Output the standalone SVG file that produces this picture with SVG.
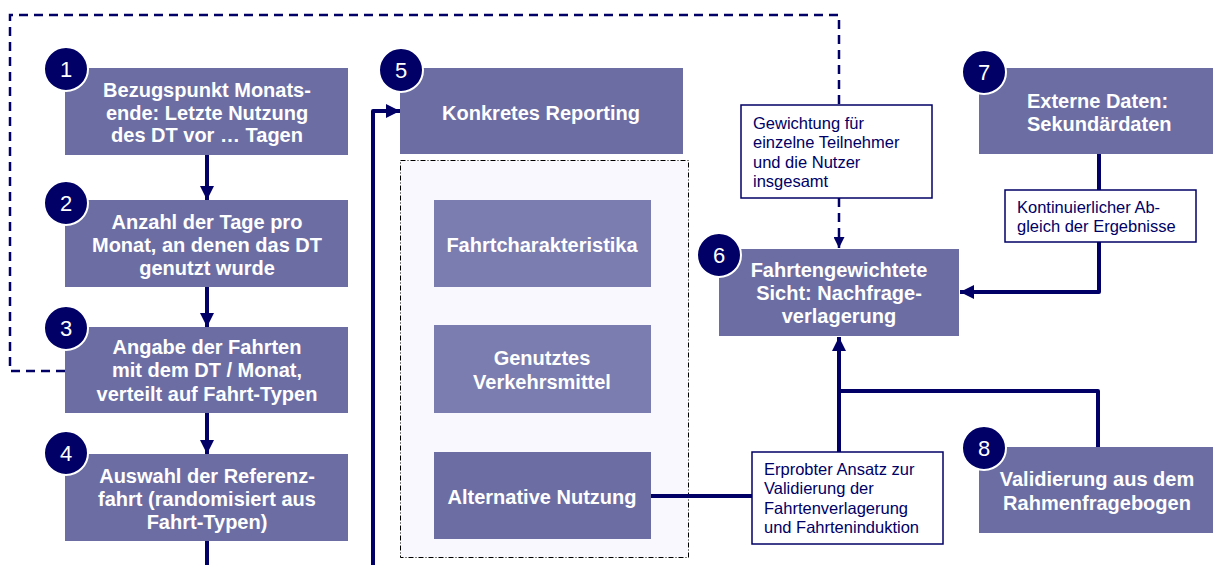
<svg xmlns="http://www.w3.org/2000/svg" width="1215" height="565" viewBox="0 0 1215 565">
<style>
.box{fill:#6C6EA3}
.lbox{fill:#7B7DB0}
.t{font-family:"Liberation Sans",Arial,sans-serif;font-weight:bold;font-size:20px;fill:#ffffff;text-anchor:middle}
.n{font-family:"Liberation Sans",Arial,sans-serif;font-size:22px;fill:#ffffff;text-anchor:middle}
.c{fill:#000066;stroke:#ffffff;stroke-width:2}
.note{fill:#ffffff;stroke:#000066;stroke-width:1.5}
.nt{font-family:"Liberation Sans",Arial,sans-serif;font-size:16.5px;fill:#000066}
.line{fill:none;stroke:#000066;stroke-width:4;stroke-linejoin:round}
.dash{fill:none;stroke:#000066;stroke-width:2.5;stroke-dasharray:9 6}
</style>
<defs>
<marker id="ah" viewBox="0 0 10 10" refX="10" refY="5" markerWidth="3.6" markerHeight="3.6" markerUnits="strokeWidth" orient="auto">
<path d="M0,0 L10,5 L0,10 z" fill="#000066"/>
</marker>
<marker id="ahs" viewBox="0 0 10 10" refX="10" refY="5" markerWidth="4.4" markerHeight="4.4" markerUnits="strokeWidth" orient="auto">
<path d="M0,0 L10,5 L0,10 z" fill="#000066"/>
</marker>
</defs>

<g id="group5">
<rect x="400.5" y="160.5" width="288" height="397" fill="#F8F8FE" stroke="#000000" stroke-width="1" stroke-dasharray="5 2 1 2"/>
</g>

<g id="connectors">
<path class="dash" d="M65,371 H10 V15 H839 V105"/>
<path class="dash" d="M839,198 V248" marker-end="url(#ahs)"/>
<path class="line" d="M207,155 V200" marker-end="url(#ah)"/>
<path class="line" d="M207,287 V327" marker-end="url(#ah)"/>
<path class="line" d="M207,413 V454" marker-end="url(#ah)"/>
<path class="line" d="M207,541 V565"/>
<path class="line" d="M373,565 V111 H400" marker-end="url(#ah)"/>
<path class="line" d="M1099,154 V190"/>
<path class="line" d="M1099,242 V292 H960" marker-end="url(#ah)"/>
<path class="line" d="M651,496 H752"/>
<path class="line" d="M839,452 V337" marker-end="url(#ah)"/>
<path class="line" d="M839,391 H1098 V447"/>
</g>

<g id="node1">
<rect class="box" x="65" y="68" width="283" height="87"/>
<text class="t" x="207" y="97">Bezugspunkt Monats-</text>
<text class="t" x="207" y="120">ende: Letzte Nutzung</text>
<text class="t" x="207" y="142">des DT vor … Tagen</text>
<circle class="c" cx="66" cy="69" r="22"/>
<text class="n" x="66" y="77">1</text>
</g>

<g id="node2">
<rect class="box" x="65" y="200" width="283" height="87"/>
<text class="t" x="207" y="229">Anzahl der Tage pro</text>
<text class="t" x="207" y="252">Monat, an denen das DT</text>
<text class="t" x="207" y="275">genutzt wurde</text>
<circle class="c" cx="66" cy="203" r="22"/>
<text class="n" x="66" y="211">2</text>
</g>

<g id="node3">
<rect class="box" x="65" y="327" width="283" height="86"/>
<text class="t" x="207" y="354">Angabe der Fahrten</text>
<text class="t" x="207" y="377">mit dem DT / Monat,</text>
<text class="t" x="207" y="401">verteilt auf Fahrt-Typen</text>
<circle class="c" cx="66" cy="328" r="22"/>
<text class="n" x="66" y="336">3</text>
</g>

<g id="node4">
<rect class="box" x="65" y="454" width="283" height="87"/>
<text class="t" x="207" y="483">Auswahl der Referenz-</text>
<text class="t" x="207" y="506">fahrt (randomisiert aus</text>
<text class="t" x="207" y="529">Fahrt-Typen)</text>
<circle class="c" cx="66" cy="453" r="22"/>
<text class="n" x="66" y="461">4</text>
</g>

<g id="node5">
<rect class="box" x="400" y="68" width="283" height="86"/>
<text class="t" x="541" y="120">Konkretes Reporting</text>
<circle class="c" cx="401" cy="70" r="22"/>
<text class="n" x="401" y="78">5</text>
</g>

<g id="fahrtcharakteristika">
<rect class="lbox" x="434" y="200" width="217" height="87"/>
<text class="t" x="542" y="252">Fahrtcharakteristika</text>
</g>

<g id="verkehrsmittel">
<rect class="lbox" x="434" y="325" width="217" height="88"/>
<text class="t" x="542" y="365">Genutztes</text>
<text class="t" x="542" y="389">Verkehrsmittel</text>
</g>

<g id="alternative">
<rect class="box" x="434" y="452" width="217" height="87"/>
<text class="t" x="542" y="504">Alternative Nutzung</text>
</g>

<g id="node6">
<rect class="box" x="719" y="249" width="240" height="87"/>
<text class="t" x="839" y="277">Fahrtengewichtete</text>
<text class="t" x="839" y="300">Sicht: Nachfrage-</text>
<text class="t" x="839" y="323">verlagerung</text>
<circle class="c" cx="719" cy="255" r="22"/>
<text class="n" x="719" y="263">6</text>
</g>

<g id="node7">
<rect class="box" x="979" y="68" width="234" height="86"/>
<text class="t" x="1027" y="108" style="text-anchor:start">Externe Daten:</text>
<text class="t" x="1027" y="131" style="text-anchor:start">Sekundärdaten</text>
<circle class="c" cx="984" cy="72" r="22"/>
<text class="n" x="984" y="80">7</text>
</g>

<g id="node8">
<rect class="box" x="979" y="447" width="234" height="86"/>
<text class="t" x="1097" y="486">Validierung aus dem</text>
<text class="t" x="1097" y="510">Rahmenfragebogen</text>
<circle class="c" cx="984" cy="448" r="22"/>
<text class="n" x="984" y="456">8</text>
</g>

<g id="note-gewichtung">
<rect class="note" x="741" y="105" width="191" height="93"/>
<text class="nt" x="753" y="129">Gewichtung für</text>
<text class="nt" x="753" y="148">einzelne Teilnehmer</text>
<text class="nt" x="753" y="168">und die Nutzer</text>
<text class="nt" x="753" y="187">insgesamt</text>
</g>

<g id="note-abgleich">
<rect class="note" x="1005" y="190" width="191" height="52"/>
<text class="nt" x="1017" y="213">Kontinuierlicher Ab-</text>
<text class="nt" x="1017" y="232">gleich der Ergebnisse</text>
</g>

<g id="note-erprobt">
<rect class="note" x="752" y="452" width="191" height="92"/>
<text class="nt" x="764" y="475">Erprobter Ansatz zur</text>
<text class="nt" x="764" y="494">Validierung der</text>
<text class="nt" x="764" y="514">Fahrtenverlagerung</text>
<text class="nt" x="764" y="533">und Fahrteninduktion</text>
</g>
</svg>
